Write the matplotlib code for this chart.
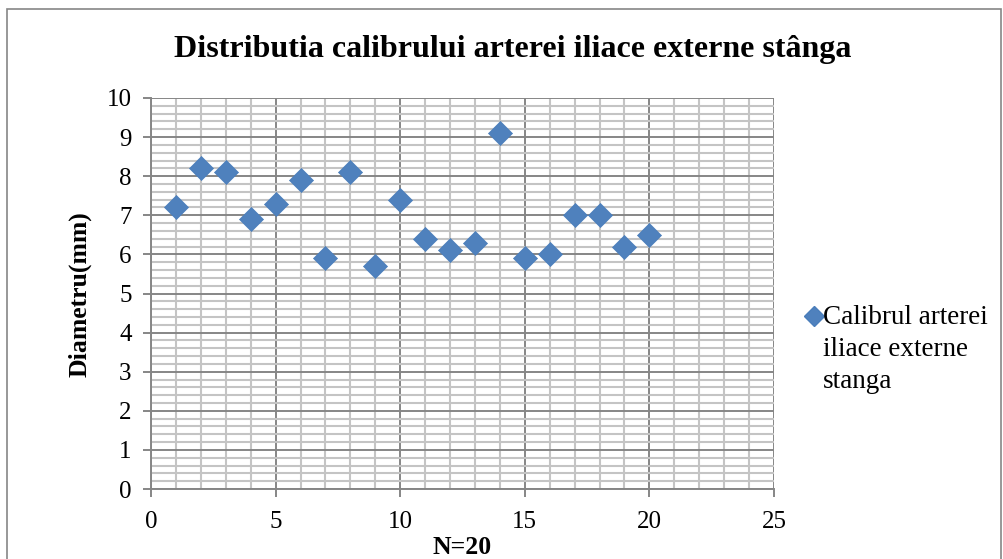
import matplotlib
matplotlib.use('Agg')
import matplotlib.pyplot as plt
from matplotlib.patches import Rectangle
from matplotlib.lines import Line2D
from matplotlib.ticker import MultipleLocator

# Data
patient = list(range(1, 21))
diametru = [7.2, 8.2, 8.1, 6.9, 7.3, 7.9, 5.9, 8.1, 5.7, 7.4,
            6.4, 6.1, 6.3, 9.1, 5.9, 6.0, 7.0, 7.0, 6.2, 6.5]
serie_label = 'Calibrul arterei\niliace externe\nstanga'
title = 'Distributia calibrului arterei iliace externe stânga'

BLUE = '#4F81BD'
plt.rcParams['font.family'] = ['Liberation Serif', 'DejaVu Serif']

W, H = 1004, 559
fig = plt.figure(figsize=(W / 100, H / 100), dpi=100)
ax = fig.add_axes([151 / W, 1 - 489 / H, (774 - 151) / W, (489 - 98) / H])

# Outer chart border
fig.patches.append(Rectangle((7 / W, -0.01), 994 / W, 1 - 9 / H + 0.01,
                             transform=fig.transFigure, fill=False,
                             edgecolor='#868686', linewidth=1.2))

ax.scatter(patient, diametru, marker='D', s=150, color=BLUE,
           edgecolors='#4A7EBB', linewidths=0.5, zorder=3)

ax.set_xlim(0, 25)
ax.set_ylim(0, 10)
ax.xaxis.set_major_locator(MultipleLocator(5))
ax.xaxis.set_minor_locator(MultipleLocator(1))
ax.yaxis.set_major_locator(MultipleLocator(1))
ax.yaxis.set_minor_locator(MultipleLocator(0.2))

ax.grid(which='major', color='#868686', linewidth=1.4, zorder=0)
ax.grid(which='minor', color='#C4C4C4', linewidth=1.5, zorder=0)
ax.set_axisbelow(True)

for s in ['top', 'right']:
    ax.spines[s].set_visible(False)
for s in ['left', 'bottom']:
    ax.spines[s].set_color('#868686')
    ax.spines[s].set_linewidth(1.4)

ax.tick_params(which='major', direction='out', length=6, color='#868686',
               width=1.4, labelsize=18)
ax.tick_params(axis='x', pad=10)
ax.tick_params(axis='y', pad=8)
ax.tick_params(which='minor', length=0)

ax.set_xlabel('N=20', fontsize=18.5, fontweight='bold', va='center')
ax.xaxis.set_label_coords((462 - 151) / 623, (489 - 548) / 391)
ax.set_ylabel('Diametru(mm)', fontsize=18.5, fontweight='bold', va='center')
ax.yaxis.set_label_coords((80 - 151) / 623, (489 - 294) / 391)

fig.text(513 / W, 1 - 50 / H, title, ha='center', va='center',
         fontsize=23, fontweight='bold')

# Legend: marker sits on the first line of the wrapped label
fig.add_artist(Line2D([814 / W], [1 - 316 / H], marker='D', markersize=10.5,
                      color=BLUE, markeredgecolor='#4A7EBB', linestyle='none',
                      transform=fig.transFigure))
fig.text(823 / W, 1 - 305 / H, serie_label, ha='left', va='top',
         fontsize=19.5, linespacing=1.36)

fig.savefig('out.png', dpi=100)
